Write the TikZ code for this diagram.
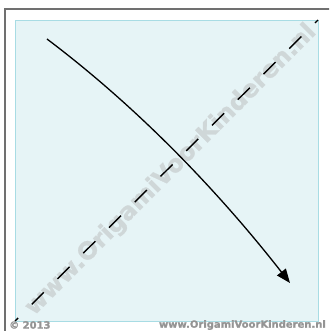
\documentclass[tikz,border=0pt]{standalone}
\usepackage{fontspec}
\newfontfamily\wmfont{DejaVu Sans}[BoldFeatures={FakeBold=1.2}]
\usetikzlibrary{arrows.meta}
\definecolor{sqfill}{HTML}{E6F4F6}
\definecolor{sqborder}{HTML}{A8DCE4}
\definecolor{framegray}{HTML}{707070}
\definecolor{wmgray}{HTML}{CFD7D8}
\definecolor{footgray}{HTML}{949494}
\tikzset{
  paper/.style={fill=sqfill, draw=sqborder, line width=0.9pt},
  foldline/.style={line width=1.4pt, dash pattern=on 17pt off 19.3pt, dash phase=12.7pt},
  movearrow/.style={line width=1.3pt, -{Triangle[length=14pt,width=11pt]}},
  watermark/.style={text=wmgray, font=\wmfont\bfseries\fontsize{24}{24}\selectfont, inner sep=0pt},
  footer/.style={text=footgray, font=\wmfont\bfseries\fontsize{10}{10}\selectfont, inner sep=0pt}
}
\begin{document}
\begin{tikzpicture}[x=1pt,y=-1pt]
\useasboundingbox (0,0) rectangle (329,331);
\fill[white] (0,0) rectangle (329,331);
\begin{scope}
\clip (0,0) rectangle (329,331);
\draw[framegray, line width=2pt] (5,9) rectangle (345,345);
\end{scope}
\draw[paper] (15,20) rectangle (318,321);
\node[watermark, rotate=45] (wm) at (171,170) {www.OrigamiVoorKinderen.nl};
\coordinate (bl) at (15,321);
\coordinate (tr) at (318,20);
\draw[foldline] (bl) -- (tr);
\coordinate (s) at (47,39);
\coordinate (e) at (290,283);
\draw[movearrow] (s) .. controls (138.8,108.2) and (219.2,192.4) .. (e);
\node[footer, anchor=west] (copy) at (9,325) {© 2013};
\node[footer, anchor=east] (site) at (326,325) {www.OrigamiVoorKinderen.nl};
\end{tikzpicture}
\end{document}
